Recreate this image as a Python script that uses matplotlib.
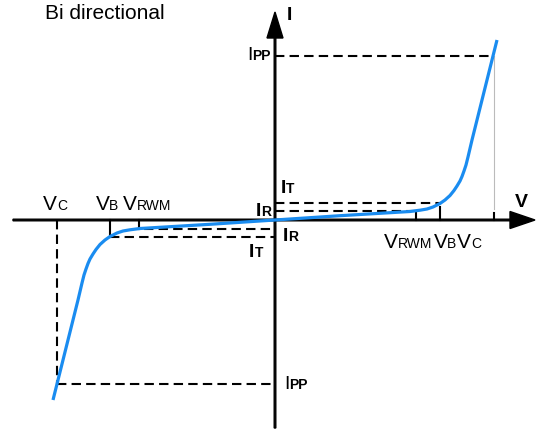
import matplotlib
matplotlib.use("Agg")
import matplotlib.pyplot as plt
import numpy as np

plt.rcParams['font.family'] = ['Liberation Sans', 'DejaVu Sans']

# values in diagram units (one unit = one pixel of the reference)
V_RWM = 141
V_B = 165
V_C = 218
I_R = 9
I_T = 17
I_PP = 164

# right branch of the I-V curve (left branch is mirrored)
curve_v = [0, 65, 135, 145, 152, 158, 165, 170, 175, 179, 182, 185, 187,
           189, 191, 193, 197, 222]
curve_i = [0, 4.3, 8.5, 9.8, 11, 13, 16.5, 20, 24.5, 29.5, 34, 39, 43.5,
           49, 55, 63, 80, 180]

blue = '#1a8cf0'
dash = (0, (4.5, 2.5))

fig = plt.figure(figsize=(5.36, 4.30), dpi=100)
ax = fig.add_axes([0, 0, 1, 1])
ax.set_xlim(-275, 261)
ax.set_ylim(-210, 220)
ax.axis('off')

# axes with arrow heads
ax.arrow(-262, 0, 522, 0, width=1.6, head_width=17, head_length=25,
         length_includes_head=True, color='k', zorder=3)
ax.arrow(0, -208, 0, 416, width=1.6, head_width=16, head_length=26,
         length_includes_head=True, color='k', zorder=3)

# dashed guide lines
ax.plot([0, V_C], [I_PP, I_PP], color='k', lw=1.5, ls=dash)
ax.plot([0, V_B], [I_T, I_T], color='k', lw=1.5, ls=dash)
ax.plot([0, V_RWM], [I_R, I_R], color='k', lw=1.5, ls=dash)
ax.plot([-V_C, 0], [-I_PP, -I_PP], color='k', lw=1.5, ls=dash)
ax.plot([-V_B, 0], [-I_T, -I_T], color='k', lw=1.5, ls=dash)
ax.plot([-V_RWM + 10, 0], [-I_R, -I_R], color='k', lw=1.5, ls=dash)
ax.plot([-V_C, -V_C], [0, -I_PP], color='k', lw=1.5, ls=dash)

# small ticks on the V axis
ax.plot([V_RWM, V_RWM], [0, 8], color='k', lw=1.5)
ax.plot([V_B, V_B], [0, 13], color='k', lw=1.5)
ax.plot([V_C + 1, V_C + 1], [0, 7], color='k', lw=1.5)
ax.plot([V_C + 1, V_C + 1], [11, I_PP], color='#bbbbbb', lw=0.8)
ax.plot([-V_RWM + 5, -V_RWM + 5], [0, -I_R], color='k', lw=1.5)
ax.plot([-V_B, -V_B], [0, -I_T], color='k', lw=1.5)

# the curve
v = np.array(curve_v, dtype=float)
i = np.array(curve_i, dtype=float)
full_v = np.concatenate([-v[::-1], v[1:]])
full_i = np.concatenate([-i[::-1], i[1:]])
ax.plot(full_v, full_i, color=blue, lw=2.3, solid_capstyle='butt',
        solid_joinstyle='round', zorder=4)

renderer = fig.canvas.get_renderer()


def label(x, y, main, sub, ha='left', mw='normal', sw='normal', size=15, subsize=10):
    t = ax.text(x, y, main, fontsize=size, fontweight=mw, va='baseline', ha='left')
    s = ax.text(x, y, sub, fontsize=subsize, fontweight=sw, va='baseline', ha='left')
    w1 = t.get_window_extent(renderer).width
    w2 = s.get_window_extent(renderer).width
    total = w1 + w2
    if ha == 'center':
        x0 = x - total / 2
    elif ha == 'right':
        x0 = x - total
    else:
        x0 = x
    t.set_x(x0)
    s.set_x(x0 + w1)


ax.text(-230, 201, 'Bi directional', fontsize=15, va='baseline', ha='left')
ax.text(12, 200, 'I', fontsize=14, fontweight='bold', va='baseline')
ax.text(240, 13, 'V', fontsize=14, fontweight='bold', va='baseline')

# voltage labels
label(-220, 10, 'V', 'C', ha='center')
label(-168, 10, 'V', 'B', ha='center')
label(-128, 10, 'V', 'RWM', ha='center')
label(133, -28, 'V', 'RWM', ha='center')
label(170, -28, 'V', 'B', ha='center')
label(194, -28, 'V', 'C', ha='center')

# current labels
label(6, 27, 'I', 'T', mw='bold', sw='bold', size=14)
label(8, -21, 'I', 'R', mw='bold', sw='bold', size=14)
label(-4, 4, 'I', 'R', ha='right', mw='bold', sw='bold', size=14)
label(-12, -37, 'I', 'T', ha='right', mw='bold', sw='bold', size=14)
label(-4, 160, 'I', 'PP', ha='right', sw='bold', size=14)
label(9, -169, 'I', 'PP', sw='bold', size=14)

fig.savefig('out.png', dpi=100)
